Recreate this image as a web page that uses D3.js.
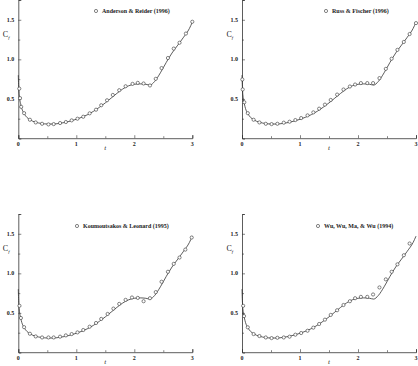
<!DOCTYPE html>
<html>
<head>
<meta charset="utf-8">
<script src="https://cdn.jsdelivr.net/npm/d3@7"></script>
<style>
  body { margin: 0; background: #fff; }
  svg text { font-family: "Liberation Serif", "DejaVu Serif", serif; fill: #222; }
</style>
</head>
<body>
<div id="chart"></div>
<script>
// reference solution (solid line), same in every panel
const curveT  = [0, 0.005, 0.01, 0.02, 0.04, 0.06, 0.1, 0.15, 0.2, 0.3, 0.4, 0.5, 0.6, 0.7, 0.8, 0.9, 1.0,
  1.1, 1.2, 1.3, 1.4, 1.5, 1.6, 1.7, 1.8, 1.9, 2.0, 2.1, 2.2, 2.27, 2.35, 2.45, 2.55, 2.65, 2.75, 2.85, 2.95, 3.0]
const curveCf = [0.80, 0.68, 0.60, 0.52, 0.44, 0.38, 0.315, 0.265, 0.237, 0.205, 0.19, 0.183, 0.183, 0.19, 0.202, 0.22, 0.243,
  0.27, 0.303, 0.345, 0.395, 0.45, 0.51, 0.57, 0.625, 0.665, 0.685, 0.69, 0.685, 0.675, 0.72, 0.83, 0.96, 1.08, 1.18, 1.28, 1.39, 1.47]

// comparison data (circles)
const andersonT  = [0.017, 0.03, 0.05, 0.1, 0.2, 0.3, 0.41, 0.52, 0.61, 0.72, 0.82, 0.92, 1.02, 1.12, 1.23, 1.34,
  1.43, 1.53, 1.63, 1.74, 1.85, 1.97, 2.06, 2.16, 2.27, 2.37, 2.47, 2.58, 2.68, 2.78, 2.89, 3.0]
const andersonCf = [0.63, 0.51, 0.40, 0.32, 0.237, 0.203, 0.186, 0.178, 0.182, 0.195, 0.208, 0.229, 0.25, 0.275, 0.318, 0.364,
  0.42, 0.483, 0.55, 0.61, 0.66, 0.69, 0.703, 0.695, 0.67, 0.754, 0.89, 1.017, 1.136, 1.21, 1.326, 1.475]

const russT  = [0.006, 0.012, 0.04, 0.1, 0.2, 0.3, 0.41, 0.51, 0.61, 0.72, 0.82, 0.92, 1.02, 1.13, 1.23, 1.33,
  1.43, 1.53, 1.64, 1.75, 1.86, 1.95, 2.05, 2.16, 2.26, 2.37, 2.48, 2.58, 2.68, 2.79, 2.89, 3.0]
const russCf = [0.746, 0.62, 0.458, 0.32, 0.237, 0.203, 0.186, 0.182, 0.186, 0.2, 0.212, 0.233, 0.258, 0.292, 0.33, 0.377,
  0.428, 0.487, 0.555, 0.619, 0.657, 0.682, 0.70, 0.70, 0.70, 0.763, 0.88, 1.008, 1.12, 1.22, 1.32, 1.458]

const koumT  = [0.02, 0.045, 0.1, 0.2, 0.3, 0.41, 0.52, 0.61, 0.72, 0.82, 0.92, 1.02, 1.12, 1.23, 1.34,
  1.43, 1.54, 1.64, 1.74, 1.85, 1.96, 2.06, 2.16, 2.27, 2.37, 2.47, 2.58, 2.68, 2.78, 2.88, 2.99]
const koumCf = [0.59, 0.436, 0.32, 0.237, 0.203, 0.19, 0.19, 0.19, 0.2, 0.216, 0.233, 0.254, 0.284, 0.326, 0.373,
  0.424, 0.487, 0.555, 0.614, 0.665, 0.695, 0.69, 0.648, 0.686, 0.763, 0.894, 1.02, 1.12, 1.2, 1.3, 1.453]

const wuT  = [0.02, 0.035, 0.1, 0.2, 0.3, 0.41, 0.51, 0.61, 0.72, 0.82, 0.92, 1.02, 1.13, 1.23, 1.33,
  1.43, 1.53, 1.64, 1.75, 1.86, 1.95, 2.05, 2.16, 2.26, 2.37, 2.48, 2.58, 2.68, 2.79, 2.89]
const wuCf = [0.59, 0.46, 0.318, 0.233, 0.208, 0.19, 0.182, 0.186, 0.19, 0.2, 0.225, 0.246, 0.275, 0.314, 0.36,
  0.415, 0.475, 0.534, 0.6, 0.648, 0.686, 0.703, 0.703, 0.733, 0.822, 0.924, 1.02, 1.114, 1.229, 1.377]

const legends = ["Anderson & Reider (1996)", "Russ & Fischer (1996)", "Koumoutsakos & Leonard (1995)", "Wu, Wu, Ma, & Wu (1994)"]
const xTickLabels = [0, 1, 2, 3]
const yTickLabels = [0.5, 1.0, 1.5]

const W = 418, H = 366
const svg = d3.select("#chart").append("svg")
  .attr("width", W)
  .attr("height", H)

// panel placement: left edge of the plot and y of the zero line
const panels = [
  { left: 18.3, bottom: 138.5, legendX: 96, legendY: 11, t: andersonT, cf: andersonCf, name: legends[0] },
  { left: 242,  bottom: 138.5, legendX: 326, legendY: 11, t: russT, cf: russCf, name: legends[1] },
  { left: 18.3, bottom: 352.5, legendX: 77, legendY: 226, t: koumT, cf: koumCf, name: legends[2] },
  { left: 242,  bottom: 352.5, legendX: 318, legendY: 226, t: wuT, cf: wuCf, name: legends[3] }
]

const PW = 174
const PH = 138.5 // height for 1.75 units
const INK = "#333"

const line = d3.line().curve(d3.curveMonotoneX)

panels.forEach(p => {
  const x = d3.scaleLinear().domain([0, 3]).range([p.left, p.left + PW])
  const y = d3.scaleLinear().domain([0, 1.75]).range([p.bottom, p.bottom - PH])
  const g = svg.append("g")

  // axes: inward ticks, minor ticks every half step
  const xAxis = d3.axisTop(x)
    .tickValues(d3.range(0, 3.01, 0.5))
    .tickSize(3)
    .tickFormat("")
  g.append("g")
    .attr("transform", `translate(0, ${p.bottom - 0.3})`)
    .call(xAxis)
    .call(s => s.select(".domain").attr("stroke", INK).attr("stroke-width", 0.8))
    .call(s => s.selectAll(".tick line").attr("stroke", INK).attr("stroke-width", 0.6)
      .attr("y2", d => Number.isInteger(d) ? -3 : -2))

  const yAxis = d3.axisRight(y)
    .tickValues(d3.range(0.25, 1.76, 0.25))
    .tickSize(3)
    .tickFormat("")
  g.append("g")
    .attr("transform", `translate(${p.left}, 0)`)
    .call(yAxis)
    .call(s => s.select(".domain").attr("stroke", INK).attr("stroke-width", 0.8))
    .call(s => s.selectAll(".tick line").attr("stroke", INK).attr("stroke-width", 0.6)
      .attr("x2", d => (Math.round(d * 100) % 50 === 0) ? 3 : 2))

  // tick labels
  g.selectAll(".xl").data(xTickLabels).enter().append("text")
    .attr("x", d => x(d))
    .attr("y", p.bottom + 7.5)
    .attr("text-anchor", "middle")
    .attr("font-size", "6px")
    .attr("font-weight", "bold")
    .text(d => d)
  g.selectAll(".yl").data(yTickLabels).enter().append("text")
    .attr("x", p.left - 4)
    .attr("y", d => y(d) + 2)
    .attr("text-anchor", "end")
    .attr("font-size", "6px")
    .attr("font-weight", "bold")
    .text(d => d.toFixed(1))

  // axis titles
  g.append("text")
    .attr("x", x(1.5))
    .attr("y", p.bottom + 11.5)
    .attr("text-anchor", "middle")
    .attr("font-size", "7px")
    .attr("font-style", "italic")
    .text("t")
  const yl = g.append("text")
    .attr("x", p.left - 15.5)
    .attr("y", y(1.28))
    .attr("font-size", "8px")
  yl.append("tspan").text("C")
  yl.append("tspan")
    .attr("font-size", "5px")
    .attr("font-style", "italic")
    .attr("dy", 2)
    .text("f")

  // solid reference line
  g.append("path")
    .attr("fill", "none")
    .attr("stroke", INK)
    .attr("stroke-width", 0.8)
    .attr("d", line(curveT.map((t, i) => [x(t), y(curveCf[i])])))

  // circles
  g.selectAll("circle.m").data(p.t).enter().append("circle")
    .attr("class", "m")
    .attr("cx", t => x(t))
    .attr("cy", (t, i) => y(p.cf[i]))
    .attr("r", 1.6)
    .attr("fill", "#fff")
    .attr("stroke", INK)
    .attr("stroke-width", 0.6)

  // legend
  g.append("circle")
    .attr("cx", p.legendX)
    .attr("cy", p.legendY)
    .attr("r", 1.6)
    .attr("fill", "#fff")
    .attr("stroke", INK)
    .attr("stroke-width", 0.6)
  g.append("text")
    .attr("x", p.legendX + 6)
    .attr("y", p.legendY + 2)
    .attr("font-size", "6px")
    .attr("font-weight", "bold")
    .text(p.name)
})
</script>
</body>
</html>
